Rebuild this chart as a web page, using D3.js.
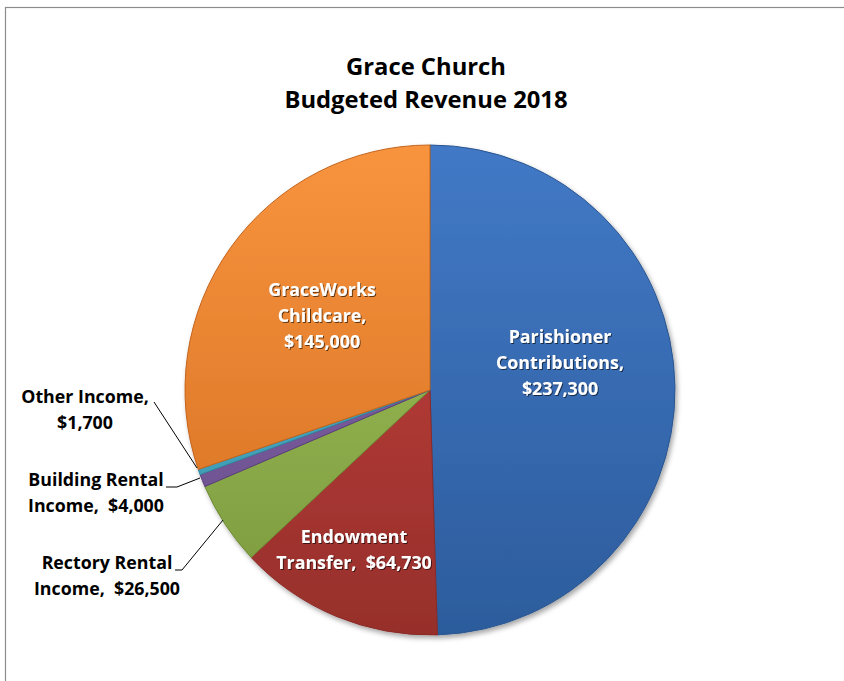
<!DOCTYPE html>
<html><head><meta charset="utf-8">
<script src="https://cdn.jsdelivr.net/npm/d3@7"></script>
<style>body{margin:0;background:#fff}svg{display:block}</style>
</head><body>
<script>
const categories = ["Parishioner Contributions","Endowment Transfer","Rectory Rental Income","Building Rental Income","Other Income","GraceWorks Childcare"];
const values = [237300, 64730, 26500, 4000, 1700, 145000];
const labelLines = [
  ["Parishioner","Contributions,","$237,300"],
  ["Endowment","Transfer,  $64,730"],
  ["Rectory Rental","Income,  $26,500"],
  ["Building Rental","Income,  $4,000"],
  ["Other Income,","$1,700"],
  ["GraceWorks","Childcare,","$145,000"]
];
const titleLines = ["Grace Church","Budgeted Revenue 2018"];

const colors = [
  {top:"#4279c6", bot:"#2c5c9c", stroke:"#2a5690"},
  {top:"#c8433e", bot:"#962f2b", stroke:"#8a2b28"},
  {top:"#a4c65e", bot:"#7a983c", stroke:"#6c8a34"},
  {top:"#8c6eb0", bot:"#644886", stroke:"#5a407c"},
  {top:"#52bad4", bot:"#3890a8", stroke:"#32879e"},
  {top:"#f8943e", bot:"#d26d20", stroke:"#c4641c"}
];
// label layout: offsets relative to pie centre (dx, first baseline dy), inside flag
const labelLayout = [
  {dx:130, dy:-47, inside:true},
  {dx:-76, dy:153, inside:true},
  {dx:-323, dy:179, inside:false, line:[[-255,180],[-248,180],[-207,130]]},
  {dx:-334, dy:96, inside:false, line:[[-264,97],[-253,97],[-230,88]]},
  {dx:-345, dy:13, inside:false, line:[[-276,12],[-233,78]]},
  {dx:-108, dy:-94, inside:true}
];

const W=844,H=681, cx=430, cy=390, R=245, lh=26;
const svg=d3.select("body").append("svg").attr("width",W).attr("height",H);
svg.append("rect").attr("x",5.5).attr("y",7.5).attr("width",W).attr("height",H).attr("fill","#fff").attr("stroke","#8c8c8c").attr("stroke-width",1.2);

const defs=svg.append("defs");
colors.forEach((c,i)=>{
  const g=defs.append("linearGradient").attr("id","g"+i).attr("gradientUnits","userSpaceOnUse")
    .attr("x1",0).attr("y1",-R).attr("x2",0).attr("y2",R);
  g.append("stop").attr("offset","0%").attr("stop-color",c.top);
  g.append("stop").attr("offset","100%").attr("stop-color",c.bot);
});
const f=defs.append("filter").attr("id","ts").attr("x","-10%").attr("y","-20%").attr("width","120%").attr("height","140%");
f.append("feDropShadow").attr("dx",1).attr("dy",1).attr("stdDeviation",0.6).attr("flood-color","#000").attr("flood-opacity",0.6);
const ps=defs.append("filter").attr("id","ps").attr("x","-10%").attr("y","-10%").attr("width","120%").attr("height","120%");
ps.append("feDropShadow").attr("dx",2).attr("dy",3).attr("stdDeviation",2.5).attr("flood-color","#000").attr("flood-opacity",0.35);

const data=categories.map((c,i)=>({cat:c,value:values[i],i}));
const pie=d3.pie().sort(null).value(d=>d.value);
const arc=d3.arc().innerRadius(0).outerRadius(R);
const arcs=pie(data);
const g=svg.append("g").attr("transform",`translate(${cx},${cy})`);
g.append("g").attr("filter","url(#ps)").selectAll("path").data(arcs).join("path")
  .attr("d",arc).attr("fill",d=>`url(#g${d.data.i})`).attr("stroke",d=>colors[d.data.i].stroke).attr("stroke-width",1);

const font="'Open Sans', sans-serif";
svg.append("g").selectAll("text").data(titleLines).join("text")
  .attr("x",426).attr("y",(d,i)=>75+i*33).attr("text-anchor","middle")
  .attr("font-family",font).attr("font-weight","bold").attr("font-size",23.8).attr("fill","#000").text(d=>d);

arcs.forEach(a=>{
  const L=labelLayout[a.data.i];
  const lines=labelLines[a.data.i];
  if(L.line){
    g.append("path").attr("d",d3.line()(L.line)).attr("fill","none").attr("stroke","#000").attr("stroke-width",1);
  }
  const t=g.append("text").attr("text-anchor","middle").attr("font-family",font).attr("font-weight","bold").attr("font-size",17.8)
    .attr("fill",L.inside?"#fff":"#000");
  if(L.inside) t.attr("filter","url(#ts)");
  lines.forEach((ln,k)=>t.append("tspan").attr("x",L.dx).attr("y",L.dy+k*lh).attr("xml:space","preserve").text(ln));
});
</script>
</body></html>
